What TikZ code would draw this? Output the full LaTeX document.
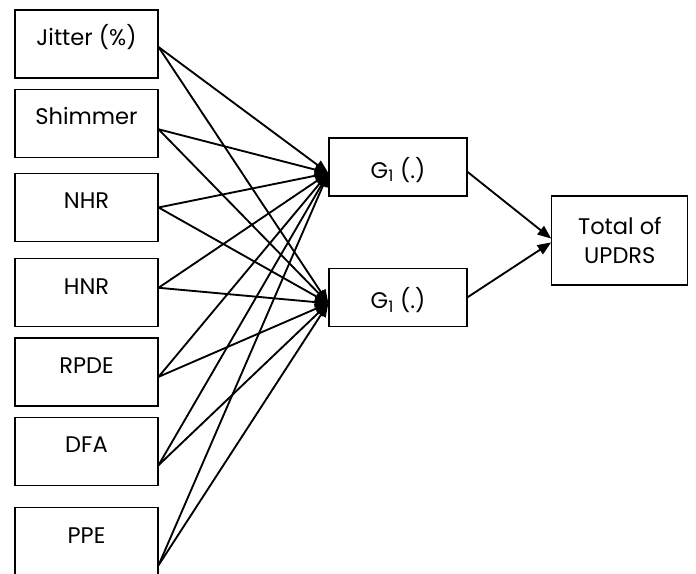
\documentclass[tikz,border=0pt]{standalone}
\usepackage{fontspec}
\setmainfont{Poppins}
\usetikzlibrary{positioning, arrows.meta}

\begin{document}
\begin{tikzpicture}[
  >={Triangle[length=3.6mm, width=2.8mm]},
  featnode/.style={draw, rectangle, line width=0.9pt, minimum width=3.78cm, minimum height=1.80cm, inner sep=0pt, text height=0.5cm, text depth=0.42cm, font=\fontsize{17}{21.5}\selectfont},
  gnode/.style={draw, rectangle, line width=0.9pt, minimum width=3.65cm, minimum height=1.535cm, inner sep=0pt, text height=0.6cm, text depth=0cm, font=\fontsize{17}{21.5}\selectfont},
  outnode/.style={draw, rectangle, line width=0.9pt, minimum width=3.6cm, minimum height=2.355cm, inner sep=0pt, font=\fontsize{17}{21.5}\selectfont, align=center},
  link/.style={->, line width=1.4pt}
]
\useasboundingbox (0,0) rectangle (18.415,-15.161);

% Input features
\node[featnode] (Jit)  at (2.289,-1.164) {Jitter (\%)};
\node[featnode] (Shim) [below=0.265cm of Jit]  {Shimmer};
\node[featnode] (NHR)  [below=0.397cm of Shim] {NHR};
\node[featnode] (HNR)  [below=0.423cm of NHR]  {HNR};
\node[featnode] (RPDE) [below=0.265cm of HNR]  {RPDE};
\node[featnode] (DFA)  [below=0.265cm of RPDE] {DFA};
\node[featnode, minimum height=2.0cm, text height=0.45cm, text depth=0.55cm] (PPE) [below=0.556cm of DFA] {PPE};

% Hidden functions and output
\node[gnode]   (G1a) at (10.53,-4.419) {G\textsubscript{1} (.)};
\node[gnode]   (G1b) [below=1.879cm of G1a] {G\textsubscript{1} (.)};
\node[outnode] (Tot) at (16.40,-6.363) {Total of\\UPDRS};

% Start and end points of the links
\coordinate (JitOut)  at ([yshift=-0.08cm]Jit.east);
\coordinate (ShimOut) at ([yshift=-0.16cm]Shim.east);
\coordinate (NHROut)  at (NHR.east);
\coordinate (HNROut)  at ([yshift=0.13cm]HNR.east);
\coordinate (RPDEOut) at ([yshift=-0.13cm]RPDE.east);
\coordinate (DFAOut)  at ([yshift=-0.37cm]DFA.east);
\coordinate (PPEOut)  at ([yshift=-0.53cm]PPE.east);
\coordinate (G1aIn)   at ([yshift=-0.16cm]G1a.west);
\coordinate (G1bIn)   at ([yshift=-0.16cm]G1b.west);

% Features to G1
\draw[link] (JitOut)  -- (G1aIn);
\draw[link] (JitOut)  -- (G1bIn);
\draw[link] (ShimOut) -- (G1aIn);
\draw[link] (ShimOut) -- (G1bIn);
\draw[link] (NHROut)  -- (G1aIn);
\draw[link] (NHROut)  -- (G1bIn);
\draw[link] (HNROut)  -- (G1aIn);
\draw[link] (HNROut)  -- (G1bIn);
\draw[link] (RPDEOut) -- (G1aIn);
\draw[link] (RPDEOut) -- (G1bIn);
\draw[link] (DFAOut)  -- (G1aIn);
\draw[link] (DFAOut)  -- (G1bIn);
\draw[link] (PPEOut)  -- (G1aIn);
\draw[link] (PPEOut)  -- (G1bIn);

% G1 to output
\draw[link] ([yshift=-0.13cm]G1a.east) -- ([yshift=0.05cm]Tot.west);
\draw[link] (G1b.east) -- ([yshift=-0.05cm]Tot.west);
\end{tikzpicture}
\end{document}
